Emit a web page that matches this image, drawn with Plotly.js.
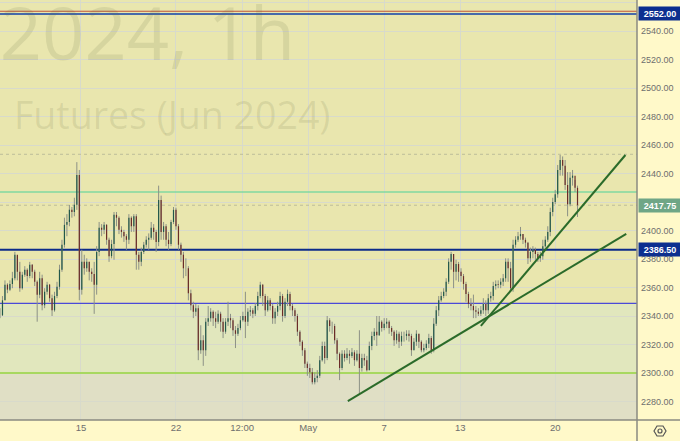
<!DOCTYPE html>
<html>
<head>
<meta charset="utf-8">
<script src="https://cdn.plot.ly/plotly-3.0.1.min.js"></script>
<style>html,body{margin:0;padding:0;background:#fff9c9;overflow:hidden}#chart{width:680px;height:441px}</style>
</head>
<body>
<div id="chart"></div>
<script>
var close = [
2340.5,2351,2362,2358.5,2362.5,2366.5,2383,2371,2359.5,2369,
2372.5,2368,2376,2371,2364,2355,2366.5,2347.5,2357,2362,
2352.5,2344,2354,2360.5,2372.5,2390,2404,2406,2414.5,2413,
2418,2439,2358.5,2378,2373.5,2378,2371,2369.5,2362,2385,
2402,2400.5,2404,2393.5,2382,2390.5,2411,2409,2400.5,2399,
2396,2393.5,2409,2403,2410,2383,2378,2385,2390,2393.5,
2395,2402,2399,2392,2421.5,2399,2403,2393.5,2390.5,2406,
2414.5,2403,2390,2383,2373.5,2373.5,2356,2347.5,2343,2345.5,
2316,2323,2316,2336,2338.5,2343,2338.5,2336,2341.5,2336,
2329,2336,2338.5,2337,2330,2327.5,2331.5,2337,2340,2336,
2343,2344,2341.5,2347,2354,2362,2354,2344,2351,2347,
2338.5,2343,2347,2354,2340,2350,2355.5,2347,2344,2340,
2329,2322,2316,2306.5,2303.5,2300.5,2293.5,2296.5,2298,2309,
2319,2310.5,2337,2333,2333,2323,2313.5,2303.5,2313.5,2310.5,
2313.5,2312,2314.5,2309,2313.5,2303.5,2310.5,2309,2302,2319,
2326,2329,2326.5,2336,2331.5,2334.5,2336,2331.5,2329,2323,
2327.5,2322,2326,2326,2327.5,2326,2316,2322,2327.5,2322,
2316,2317.5,2320.5,2324.5,2316,2334.5,2344,2351,2354,2357,
2364,2378,2383.5,2371,2376.5,2371,2368,2362.5,2355.5,2348.5,
2347,2344,2343,2341.5,2344,2348.5,2344,2352.5,2354,2361,
2362.5,2362,2364,2366.5,2378,2373.5,2359.5,2390,2393.5,2396,
2397.5,2393.5,2391.5,2380.5,2385,2386.5,2383.5,2380.5,2382,2389,
2393.5,2399,2413,2420,2425.5,2442.5,2449.5,2445.5,2432,2418.5,2437,2438.5,2430,2417.75];
var high = [
2345.5,2354,2365,2363,2365,2371,2385,2382,2378,2371,
2375,2373.5,2378,2376.5,2372.5,2365,2371,2369,2359.5,2364,
2362.5,2355,2357,2364,2376,2393.5,2409,2411.5,2418,2416.5,
2423,2448,2442.5,2386.5,2383,2380.5,2378,2373.5,2378,2389,
2406,2404.5,2406,2404.5,2395,2393.5,2413,2413,2410,2403,
2400.5,2397.5,2411.5,2410,2411.5,2411.5,2385,2388,2392,2396,
2398,2406,2404.5,2400.5,2431.5,2424.5,2406,2404.5,2399,2407.5,
2416.5,2416,2404.5,2391.5,2385,2380.5,2375,2358.5,2350,2348.5,
2347.5,2333.5,2326.5,2338.5,2347,2345.5,2344,2343,2344,2343,
2338.5,2338.5,2350,2341.5,2338.5,2333,2334.5,2340,2343,2357,
2345.5,2347,2345.5,2349,2357,2364,2362.5,2355.5,2354,2352.5,
2348.5,2345.5,2350,2357,2355.5,2352.5,2358.5,2357,2348.5,2345.5,
2341.5,2330,2323,2317.5,2308,2306.5,2303.5,2300.5,2302,2312,
2322,2322,2340,2338.5,2336,2334.5,2324.5,2314.5,2316,2316,
2317.5,2316,2317.5,2316,2316,2330,2313.5,2313.5,2312,2322,
2329,2331.5,2340,2340,2337,2338.5,2338.5,2337,2333,2330,
2330,2329,2329,2329,2330,2330,2327.5,2324.5,2330,2327.5,
2323,2320.5,2323,2327.5,2326,2338.5,2347,2354,2357,2359.5,
2366.5,2380.5,2385,2383.5,2379.5,2378,2373.5,2369.5,2364,2357,
2352.5,2355,2347,2345.5,2347,2352.5,2351,2355.5,2357,2364,
2365,2365,2366.5,2369.5,2380.5,2380.5,2378,2393.5,2396,2399,
2402.5,2397.5,2395,2392,2388,2389,2388,2385,2385,2393.5,
2396,2403,2416,2423,2428.5,2446,2453,2452,2449.5,2441,2441,2442.5,2435.5,2431.5];
var low = [
2338.5,2340,2351,2356,2357.5,2359.5,2365,2365,2357,2358.5,
2367.5,2364,2366.5,2366.5,2361,2336,2352.5,2344,2345.5,2355,
2350,2340,2343,2352.5,2358.5,2371,2388,2396,2403,2409,
2410,2414.5,2351,2355,2369,2371,2365,2364,2341.5,2355,
2382,2396,2397.5,2390,2378,2380.5,2379.5,2403,2397.5,2395,
2392,2386.5,2390.5,2399,2399,2372.5,2372.5,2375,2383.5,2388,
2386.5,2393.5,2393.5,2385,2389,2393.5,2393.5,2389,2386.5,2389,
2404.5,2400.5,2386.5,2378,2366.5,2368,2351,2344,2338.5,2340,
2309,2313.5,2305,2312,2333,2336,2333,2331.5,2334.5,2329,
2324.5,2327.5,2333,2331.5,2326,2317.5,2326,2330,2336,2324.5,
2333,2340,2338.5,2340,2344,2352.5,2347,2340,2343,2344,
2334.5,2334.5,2340,2344,2336,2338.5,2347,2344,2340,2336,
2326,2319,2312,2303.5,2298,2296.5,2292,2292,2293.5,2296.5,
2308,2306.5,2309,2329,2327.5,2320.5,2309,2295,2302,2308,
2309,2306.5,2310.5,2305,2308,2285,2301,2305,2301,2302,
2316,2323,2319,2326,2329,2330,2331.5,2327.5,2326,2319,
2320.5,2317.5,2319,2322,2323,2322,2312,2316,2319,2317.5,
2314.5,2314.5,2316,2317.5,2313.5,2314.5,2333,2340,2350,2352.5,
2354,2362.5,2372.5,2359.5,2365,2364,2364,2358.5,2350,2345.5,
2344,2338.5,2338.5,2340,2340,2341.5,2340,2341.5,2350,2351,
2358.5,2359.5,2359.5,2361,2364,2364,2357,2357,2388,2392,
2393.5,2390.5,2388,2376.5,2378,2380.5,2379.5,2378,2378,2379.5,
2388,2392,2396,2410,2418.5,2423,2438.5,2438.5,2428.5,2410,2417,2431.5,2427,2409.5];

var barStep = 3;
var xTickVals = [98, 213, 293, 373, 465, 557, 672];
var xTickText = ['15', '22', '12:00', 'May', '7', '13', '20'];
var yTicks = [2280,2300,2320,2340,2360,2380,2400,2420,2440,2460,2480,2500,2520,2540,2560];
var yTickText = ['2280.00','2300.00','2320.00','2340.00','2360.00','2380.00','2400.00','','2440.00','2460.00','2480.00','2500.00','2520.00','2540.00','2560.00'];
var xRange = [0, 771];
var yRange = [2267, 2561.8];

var trendX1 = [421, 758], trendY1 = [2280.3, 2397.6];
var trendX2 = [582, 757], trendY2 = [2333, 2453];

var zoneEdges = [2267, 2300, 2348.8, 2561.8];
var zoneColors = ['#e0dfc5', '#e1e7bd', '#e9e6ae'];
var levelPrices = [2553.9, 2552, 2453.5, 2427, 2417.75, 2386.5, 2348.8, 2300];
var levelColors = ['#c0553a', '#1040a8', '#bdbd9a', '#80d8a0', '#bdbd9a', '#0b2a8a', '#4a4ad8', '#a8d860'];
var levelWidths = [1.2, 1.5, 1, 1.5, 1, 2, 1.2, 2];
var levelDash = ['solid', 'solid', 'dot', 'solid', 'dot', 'solid', 'solid', 'solid'];
var priceTags = [2552, 2417.75, 2386.5];
var priceTagColors = ['#0d2f8f', '#6fa686', '#0d2f8f'];

var x = close.map(function (_, i) { return i * barStep; });
var open = close.map(function (c, i) { return i ? close[i - 1] : c; });
var wickX = [], wickY = [], upX = [], upY = [], downX = [], downY = [];
x.forEach(function (v, i) {
  wickX.push(v, v, null); wickY.push(low[i], high[i], null);
  if (close[i] >= open[i]) { upX.push(v, v, null); upY.push(open[i], close[i], null); }
  else { downX.push(v, v, null); downY.push(open[i], close[i], null); }
});

var traces = [];
levelPrices.forEach(function (p, i) {
  traces.push({ type: 'scatter', mode: 'lines', x: xRange, y: [p, p], hoverinfo: 'skip', showlegend: false,
    line: { color: levelColors[i], width: levelWidths[i], dash: levelDash[i] } });
});
traces.push(
  { type: 'scatter', mode: 'lines', x: wickX, y: wickY, connectgaps: false,
    line: { color: '#8c9186', width: 1 }, hoverinfo: 'skip', showlegend: false },
  { type: 'scatter', mode: 'lines', x: upX, y: upY, connectgaps: false,
    line: { color: '#22584a', width: 1.2 }, hoverinfo: 'skip', showlegend: false },
  { type: 'scatter', mode: 'lines', x: downX, y: downY, connectgaps: false,
    line: { color: '#6a2c28', width: 1.2 }, hoverinfo: 'skip', showlegend: false },
  { type: 'scatter', mode: 'lines', x: trendX1, y: trendY1, line: { color: '#2b6b2a', width: 2 }, showlegend: false },
  { type: 'scatter', mode: 'lines', x: trendX2, y: trendY2, line: { color: '#2b6b2a', width: 2 }, showlegend: false }
);

var shapes = [];
zoneColors.forEach(function (c, i) {
  shapes.push({ type: 'rect', layer: 'below', xref: 'paper', yref: 'y', x0: 0, x1: 1,
    y0: zoneEdges[i], y1: zoneEdges[i + 1], fillcolor: c, line: { width: 0 } });
});
var W = 637, H = 420;
function px(v) { return v / W; }
function py(v) { return (H - v) / H; }
shapes.push({ type: 'line', xref: 'paper', yref: 'paper', x0: 1, x1: 1, y0: py(0), y1: py(441), line: { color: '#8a8a80', width: 1.5 } });
shapes.push({ type: 'line', xref: 'paper', yref: 'paper', x0: 0, x1: px(680), y0: 0, y1: 0, line: { color: '#8a8a80', width: 1.5 } });
var hex = [[654, 431], [657, 426], [663, 426], [666, 431], [663, 436], [657, 436]];
shapes.push({ type: 'path', xref: 'paper', yref: 'paper',
  path: 'M' + hex.map(function (p) { return px(p[0]) + ',' + py(p[1]); }).join('L') + 'Z',
  line: { color: '#555', width: 1.2 } });
shapes.push({ type: 'circle', xref: 'paper', yref: 'paper', x0: px(658), x1: px(662), y0: py(433), y1: py(429),
  line: { color: '#555', width: 1.2 } });

var mark = 'rgba(90,100,60,0.13)';
var annotations = [
  { text: 'A2024, 1h', xref: 'paper', yref: 'paper', x: px(297), y: py(32), xanchor: 'right', yanchor: 'middle',
    showarrow: false, font: { family: 'Open Sans', size: 74, color: mark } },
  { text: 'Futures (Jun 2024)', xref: 'paper', yref: 'paper', x: px(12), y: py(114), xanchor: 'left', yanchor: 'middle',
    showarrow: false, font: { family: 'Open Sans', size: 37.5, color: mark } }
];
priceTags.forEach(function (p, i) {
  annotations.push({ text: '<b>' + p.toFixed(2) + '</b>', xref: 'paper', yref: 'y', x: px(638), y: p, xanchor: 'left',
    yanchor: 'middle', showarrow: false, width: 42, height: 13, borderpad: 0, bgcolor: priceTagColors[i],
    font: { family: 'Liberation Sans', size: 9, color: '#ffffff' } });
});

var layout = {
  width: 680, height: 441,
  margin: { l: 0, r: 43, t: 0, b: 21, pad: 0 },
  paper_bgcolor: '#fff9c9', plot_bgcolor: '#e9e6ae',
  showlegend: false,
  xaxis: { type: 'linear', range: xRange, tickmode: 'array', tickvals: xTickVals, ticktext: xTickText,
    showgrid: true, gridcolor: '#d8dacb', gridwidth: 1, zeroline: false, showline: false, ticks: '', ticklen: 0,
    tickfont: { family: 'Liberation Sans', size: 9.5, color: '#6e6e6e' } },
  yaxis: { type: 'linear', range: yRange, side: 'right', tickmode: 'array', tickvals: yTicks, ticktext: yTickText,
    showgrid: true, gridcolor: '#d8dacb', gridwidth: 1, zeroline: false, showline: false, ticks: '',
    ticklabelstandoff: 3,
    tickfont: { family: 'Liberation Sans', size: 9, color: '#6e6e6e' } },
  shapes: shapes, annotations: annotations
};
Plotly.newPlot('chart', traces, layout, { displayModeBar: false, staticPlot: true });
</script>
</body>
</html>
